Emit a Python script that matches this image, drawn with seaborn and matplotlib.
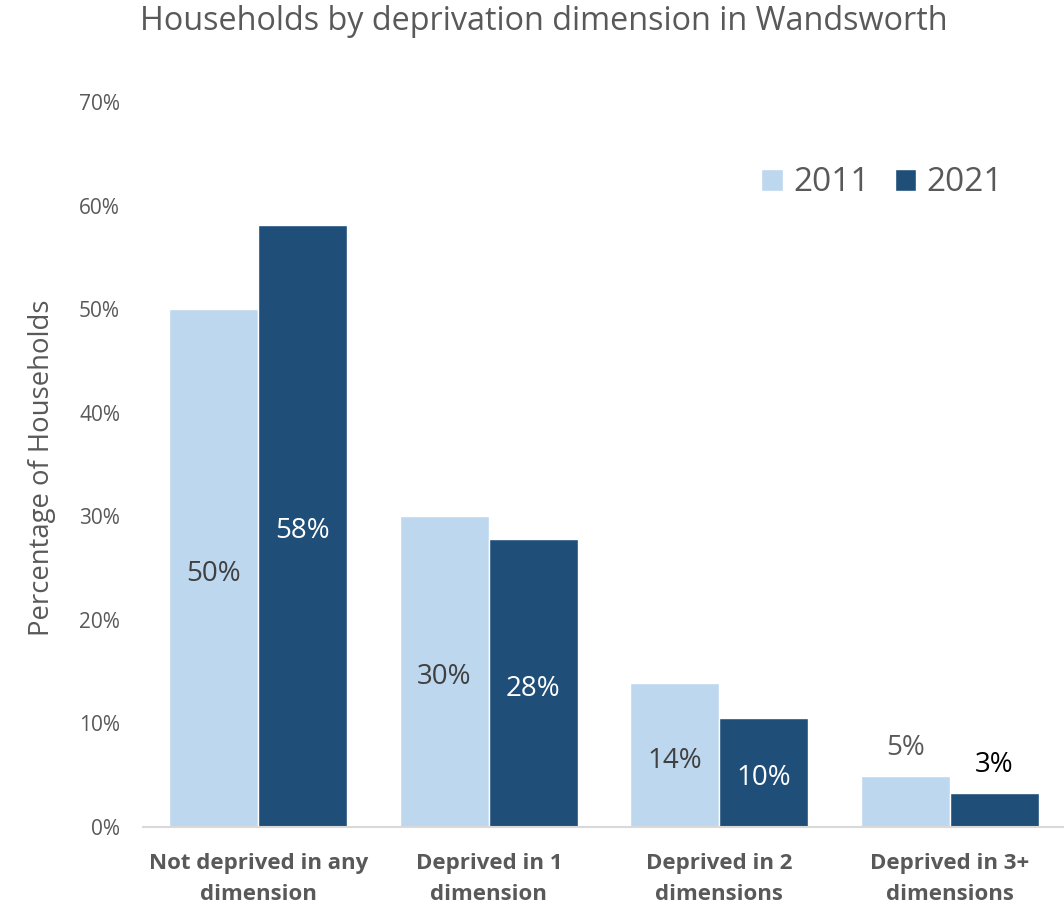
import pandas as pd
import seaborn as sns
import matplotlib.pyplot as plt

sns.set_theme(style="white")
plt.rcParams['font.family'] = ['Open Sans', 'DejaVu Sans']

categories = ['Not deprived in any\ndimension', 'Deprived in 1\ndimension',
              'Deprived in 2\ndimensions', 'Deprived in 3+\ndimensions']
years = ['2011', '2021']
vals_2011 = [50.0, 30.0, 13.9, 4.95]
vals_2021 = [58.2, 27.8, 10.5, 3.3]
labels_2011 = ['50%', '30%', '14%', '5%']
labels_2021 = ['58%', '28%', '10%', '3%']

palette = ['#bdd7ee', '#1f4e79']
grey = '#595959'

df = pd.DataFrame({
    'Category': categories * 2,
    'Year': [years[0]] * 4 + [years[1]] * 4,
    'Value': vals_2011 + vals_2021,
})

fig = plt.figure(figsize=(10.64, 9.06), dpi=100)
ax = fig.add_axes([0.1344, 0.0872, 0.8666, 0.7997])

sns.barplot(data=df, x='Category', y='Value', hue='Year', palette=palette,
            width=0.772, gap=0, errorbar=None, ax=ax, saturation=1)

ax.set_xlim(-0.5, 3.5)
ax.set_ylim(0, 70)
ax.set_yticks(range(0, 71, 10))
ax.set_yticklabels([f'{t}%' for t in range(0, 71, 10)], fontsize=15, color=grey)
ax.tick_params(axis='y', length=0, pad=16.5)
ax.tick_params(axis='x', length=0, pad=18.5)
for lab in ax.get_xticklabels():
    lab.set_fontweight('bold')
    lab.set_fontsize(16)
    lab.set_color(grey)
    lab.set_linespacing(1.65)
ax.set_xlabel('')
ax.set_ylabel('')
for s in ['top', 'right', 'left']:
    ax.spines[s].set_visible(False)
ax.spines['bottom'].set_color('#d9d9d9')
ax.spines['bottom'].set_linewidth(1.5)

# value labels
for cont, labs, col in zip(ax.containers, [labels_2011, labels_2021], ['#404040', 'white']):
    for bar, txt in zip(cont, labs):
        h = bar.get_height()
        x = bar.get_x() + bar.get_width() / 2
        if h < 8:
            c = grey if col != 'white' else 'black'
            ax.annotate(txt, (x, h), xytext=(0, 10), textcoords='offset points',
                        ha='center', va='bottom', fontsize=20, color=c)
        else:
            ax.annotate(txt, (x, h / 2), xytext=(0, -4), textcoords='offset points',
                        ha='center', va='center', fontsize=20, color=col)

ax.legend(loc='center right', bbox_to_anchor=(0.965, 0.889), ncol=2, frameon=False,
          fontsize=24, handlelength=0.65, handleheight=0.65, handletextpad=0.3,
          columnspacing=0.75, labelcolor=grey)

fig.text(544 / 1064, 1 - 21 / 906, 'Households by deprivation dimension in Wandsworth',
         ha='center', va='center', fontsize=23.3, color=grey)
fig.text(42 / 1064, 1 - 468 / 906, 'Percentage of Households', rotation=90,
         ha='center', va='center', fontsize=19.8, color=grey)

fig.savefig('out.png', dpi=100)
